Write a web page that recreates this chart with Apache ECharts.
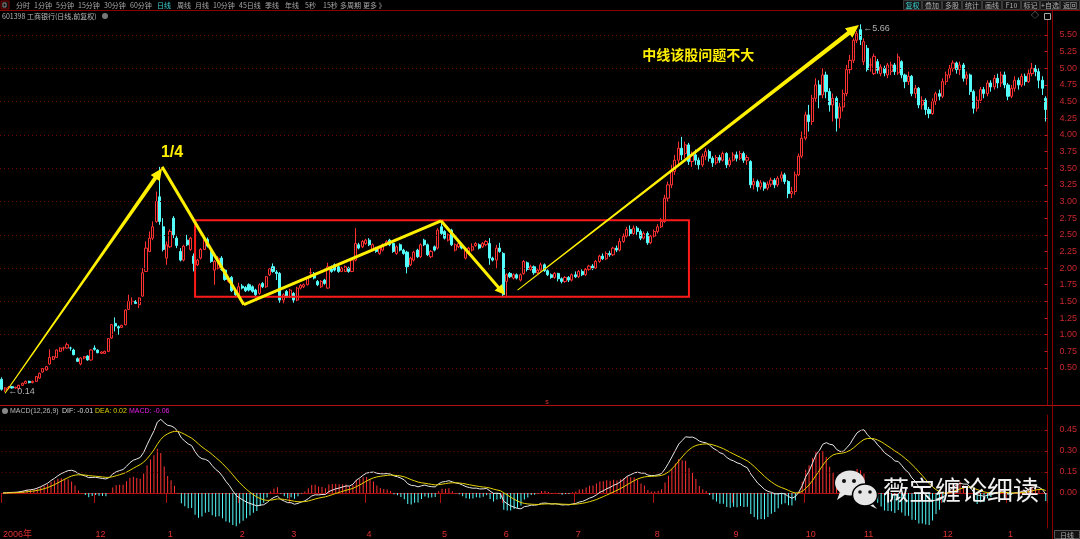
<!DOCTYPE html>
<html><head><meta charset="utf-8">
<script src="https://cdn.jsdelivr.net/npm/echarts@6/dist/echarts.min.js"></script>
<style>html,body{margin:0;padding:0;background:#000;}#c{width:1080px;height:539px;}</style>
</head><body><div id="c"></div>
<script>
// ===== DATA: daily candles [open, close, low, high] =====
const phaseRise = [
[0.33,0.18,0.16,0.36],[0.17,0.20,0.14,0.21],[0.20,0.21,0.18,0.23],[0.22,0.20,0.19,0.23],[0.20,0.21,0.19,0.22],
[0.19,0.24,0.18,0.25],[0.24,0.27,0.23,0.28],[0.27,0.30,0.26,0.31],[0.30,0.28,0.27,0.31],[0.28,0.30,0.27,0.31],
[0.30,0.37,0.29,0.38],[0.35,0.42,0.34,0.43],[0.44,0.49,0.43,0.50],[0.47,0.52,0.46,0.53],[0.56,0.66,0.55,0.78],
[0.63,0.67,0.62,0.68],[0.66,0.77,0.65,0.78],[0.75,0.80,0.74,0.81],[0.80,0.80,0.76,0.82],[0.80,0.85,0.79,0.88],
[0.80,0.80,0.76,0.82],[0.77,0.70,0.69,0.79],[0.64,0.60,0.59,0.66],[0.56,0.65,0.54,0.66],[0.65,0.67,0.63,0.68],
[0.68,0.62,0.61,0.69],[0.62,0.77,0.61,0.78],[0.80,0.78,0.76,0.84],[0.77,0.73,0.72,0.78],[0.72,0.74,0.71,0.75],
[0.72,0.75,0.71,0.76],[0.75,0.94,0.74,0.95],[0.95,1.15,0.94,1.16],[1.17,1.13,1.05,1.26],[1.12,1.10,1.00,1.14],
[1.11,1.14,1.10,1.15],[1.15,1.37,1.14,1.38],[1.38,1.50,1.37,1.60],[1.50,1.50,1.45,1.56],[1.50,1.47,1.46,1.52],
[1.45,1.55,1.40,1.56],[1.58,1.93,1.57,2.00],[1.95,2.30,1.94,2.40],[2.25,2.45,2.24,2.55],[2.45,2.62,2.42,2.70],
[2.70,3.00,2.68,3.15],[3.07,2.70,2.65,3.52],[2.62,2.28,2.25,2.75]
];
const phaseBox = [
[2.15,2.35,2.05,2.40],[2.32,2.55,2.30,2.58],[2.75,2.50,2.45,2.78],[2.45,2.34,2.30,2.50],[2.25,2.12,2.10,2.30],
[2.12,2.33,2.10,2.35],[2.42,2.35,2.33,2.50],[2.28,2.45,2.26,2.47],[2.18,2.07,1.95,2.22],[2.05,2.12,2.03,2.14],
[2.15,2.28,2.13,2.30],[2.28,2.42,2.27,2.45],[2.43,2.33,2.31,2.46],[2.25,2.10,2.08,2.27],[1.97,2.10,1.75,2.12],
[2.00,2.15,1.98,2.18],[2.15,1.98,1.96,2.18],[1.97,1.83,1.81,1.99],[1.80,1.84,1.78,1.86],[1.86,1.66,1.64,1.88],
[1.66,1.60,1.58,1.68],[1.60,1.72,1.58,1.78],[1.73,1.70,1.68,1.76],[1.71,1.66,1.64,1.73],[1.75,1.67,1.65,1.77],
[1.72,1.65,1.63,1.74],[1.67,1.60,1.58,1.69],[1.62,1.75,1.60,1.77],[1.77,1.72,1.70,1.79],[1.72,1.87,1.70,1.88],
[1.90,1.99,1.88,2.00],[2.02,1.95,1.93,2.07],[1.94,1.92,1.82,1.97],[1.92,1.52,1.48,1.94],[1.52,1.60,1.47,1.62],
[1.65,1.57,1.55,1.67],[1.57,1.67,1.55,1.69],[1.62,1.52,1.48,1.64],[1.52,1.70,1.50,1.72],[1.70,1.74,1.68,1.76],
[1.72,1.75,1.70,1.77],[1.75,1.85,1.74,1.87],[1.93,1.93,1.85,2.00],[1.92,1.85,1.83,1.94],[1.80,1.75,1.73,1.82],
[1.72,1.80,1.70,1.82],[1.82,1.77,1.75,1.84],[1.70,2.02,1.69,2.08],[2.02,1.95,1.93,2.04],[2.05,1.97,1.95,2.07],
[2.02,1.95,1.93,2.04],[1.95,2.00,1.94,2.02],[1.95,2.02,1.94,2.04],[2.00,1.95,1.93,2.02],[1.95,2.12,1.94,2.14],
[2.12,2.37,2.10,2.60],[2.35,2.30,2.28,2.38],[2.32,2.40,2.30,2.42],[2.37,2.42,2.35,2.44],[2.42,2.35,2.33,2.45],
[2.27,2.35,2.25,2.37],[2.30,2.25,2.23,2.32],[2.22,2.30,2.20,2.32],[2.27,2.35,2.25,2.37],[2.35,2.40,2.33,2.42],
[2.42,2.35,2.33,2.44],[2.37,2.25,2.23,2.40],[2.22,2.32,2.20,2.34],[2.35,2.27,2.25,2.37],[2.27,2.22,2.20,2.29],
[2.24,2.02,1.92,2.26],[2.05,2.15,2.03,2.17],[2.12,2.24,2.10,2.26],[2.27,2.17,2.15,2.29],[2.17,2.35,2.15,2.37],
[2.42,2.35,2.33,2.44],[2.35,2.20,2.18,2.37],[2.17,2.25,2.15,2.27],[2.32,2.27,2.25,2.34],[2.30,2.57,2.28,2.60],
[2.62,2.52,2.50,2.72],[2.55,2.45,2.43,2.57],[2.42,2.50,2.40,2.52],[2.57,2.35,2.33,2.59],[2.27,2.35,2.25,2.37],
[2.32,2.37,2.30,2.39],[2.35,2.30,2.28,2.37],[2.15,2.27,2.13,2.29],[2.22,2.30,2.20,2.32],[2.27,2.32,2.25,2.37],
[2.34,2.37,2.32,2.39],[2.35,2.30,2.28,2.37],[2.32,2.37,2.30,2.39],[2.35,2.40,2.33,2.42],[2.37,2.15,2.05,2.45],
[2.15,2.12,2.10,2.17],[2.12,2.30,1.99,2.35],[2.30,2.25,2.23,2.38],[2.22,1.60,1.58,2.24],[1.80,1.90,1.57,1.92],
[1.92,1.87,1.85,1.94],[1.85,1.90,1.83,1.92],[1.90,1.85,1.83,1.92],[1.82,1.90,1.80,1.92],[1.92,2.10,1.90,2.12]
];
const phaseBreakout = [
[2.08,1.98,1.95,2.10],[1.98,2.02,1.96,2.05],[2.02,1.93,1.90,2.04],[1.93,1.97,1.91,1.99],[1.97,2.05,1.95,2.08],
[2.05,1.96,1.94,2.07],[1.96,1.90,1.88,1.98],[1.90,1.86,1.84,1.92],[1.86,1.92,1.84,1.94],[1.92,1.84,1.80,1.93],
[1.84,1.80,1.77,1.86],[1.80,1.86,1.78,1.88],[1.86,1.82,1.79,1.88],[1.82,1.90,1.80,1.92],[1.90,1.87,1.85,1.95],
[1.87,1.95,1.85,1.97],[1.95,1.90,1.88,1.98],[1.90,1.98,1.88,2.00],[1.98,2.03,1.96,2.05],[2.03,2.00,1.97,2.06],
[2.00,2.10,1.99,2.12],[2.10,2.18,2.08,2.20],[2.18,2.14,2.12,2.22],[2.14,2.22,2.12,2.25],[2.22,2.20,2.17,2.26],
[2.20,2.30,2.18,2.32],[2.30,2.27,2.24,2.34],[2.27,2.40,2.25,2.45],[2.40,2.48,2.38,2.52],[2.48,2.58,2.46,2.62],
[2.58,2.52,2.48,2.64],[2.52,2.60,2.50,2.64],[2.60,2.55,2.50,2.63],[2.55,2.45,2.42,2.58],[2.45,2.52,2.43,2.55],
[2.52,2.38,2.35,2.55],[2.38,2.48,2.36,2.50],[2.48,2.55,2.46,2.58],[2.55,2.62,2.52,2.66],[2.62,2.70,2.60,2.75],
[2.70,3.05,2.68,3.10],[3.05,3.25,3.00,3.30],
[3.25,3.45,3.20,3.55],[3.45,3.62,3.40,3.70],[3.62,3.80,3.55,3.90],[3.80,3.70,3.62,3.97],[3.72,3.85,3.65,3.90],
[3.85,3.60,3.55,3.88],[3.60,3.70,3.52,3.75],[3.70,3.62,3.55,3.78],[3.62,3.55,3.48,3.66],[3.55,3.68,3.52,3.72],
[3.68,3.75,3.62,3.80],[3.75,3.65,3.60,3.78],[3.65,3.58,3.52,3.68],[3.58,3.66,3.55,3.70],[3.66,3.62,3.58,3.70],
[3.62,3.72,3.60,3.75],[3.72,3.55,3.50,3.74],[3.55,3.62,3.52,3.66],[3.62,3.70,3.60,3.74],[3.70,3.65,3.60,3.75],
[3.65,3.72,3.62,3.76],[3.72,3.62,3.58,3.75],[3.62,3.66,3.55,3.70],[3.60,3.25,3.20,3.62],[3.25,3.30,3.18,3.35],
[3.30,3.22,3.15,3.33],[3.22,3.28,3.18,3.32],[3.28,3.20,3.16,3.30],[3.20,3.26,3.17,3.30],[3.26,3.32,3.22,3.36],
[3.32,3.25,3.20,3.35],[3.25,3.35,3.22,3.38],[3.35,3.40,3.30,3.45],[3.40,3.30,3.26,3.43],[3.30,3.12,3.05,3.32],
[3.12,3.15,3.05,3.22],[3.15,3.40,3.10,3.45],[3.40,3.68,3.38,3.72],[3.68,3.95,3.65,4.05],[3.95,4.30,3.92,4.35]
];
const phaseTop = [
[4.30,4.20,4.05,4.45],[4.20,4.55,4.15,4.60],[4.55,4.75,4.50,4.85],[4.75,4.60,4.40,4.82],[4.60,4.90,4.55,5.00],
[4.90,4.65,4.55,4.95],[4.65,4.45,4.35,4.70],[4.45,4.55,4.20,4.62],[4.55,4.25,4.05,4.58],[4.25,4.42,4.10,4.48],
[4.42,4.62,4.35,4.68],[4.62,4.98,4.58,5.05],[4.98,5.12,4.92,5.20],[5.12,5.42,5.08,5.45],[5.42,5.52,5.38,5.56],
[5.58,5.43,5.35,5.66],[5.10,5.40,5.05,5.45],[5.30,4.98,4.95,5.35],[5.05,5.05,4.95,5.15],[4.92,5.18,4.90,5.22],
[5.10,4.97,4.92,5.14],[4.92,5.02,4.88,5.06],[5.00,4.93,4.88,5.04],[4.90,5.05,4.85,5.08],[4.95,5.05,4.90,5.10],
[5.05,4.95,4.90,5.08],[4.93,5.17,4.90,5.22],[5.10,4.90,4.85,5.12],[4.90,4.80,4.70,4.92],[4.80,4.88,4.75,4.95],
[4.88,4.62,4.58,4.90],[4.62,4.70,4.55,4.75],[4.70,4.45,4.40,4.72],[4.45,4.52,4.38,4.58],[4.52,4.38,4.30,4.55],
[4.38,4.32,4.25,4.42],[4.32,4.50,4.30,4.55],[4.50,4.62,4.45,4.65],[4.62,4.58,4.52,4.68],[4.58,4.80,4.55,4.85],
[4.80,4.90,4.75,4.95],[4.90,5.00,4.85,5.05],[5.00,5.08,4.95,5.12],[5.08,4.98,4.92,5.10],[4.98,5.05,4.90,5.10],
[5.05,4.85,4.80,5.08],[4.85,4.90,4.75,4.95],[4.90,4.65,4.60,4.92],[4.65,4.40,4.32,4.68],[4.40,4.52,4.35,4.58],
[4.52,4.68,4.48,4.72],[4.68,4.62,4.55,4.72],[4.62,4.78,4.58,4.82],[4.78,4.72,4.65,4.82],[4.72,4.85,4.68,4.90],
[4.85,4.78,4.70,4.92],[4.78,4.90,4.72,4.95],[4.90,4.75,4.70,4.95],[4.75,4.58,4.52,4.78],[4.58,4.70,4.55,4.75],
[4.70,4.82,4.65,4.88],[4.82,4.75,4.68,4.86],[4.75,4.88,4.72,4.92],[4.88,4.80,4.74,4.92],[4.80,4.92,4.78,4.98],
[4.92,5.00,4.88,5.08],[5.00,4.95,4.88,5.05],[4.95,4.82,4.70,5.00],[4.82,4.70,4.60,4.88],[4.55,4.38,4.20,4.58]
];
// x-axis month labels and the candle index where each month starts
const monthLabels = ['2006年','12','1','2','3','4','5','6','7','8','9','10','11','12','1'];
const monthStartIdx = [0,27,48,69,84,106,128,146,167,190,213,234,251,274,293];
// y tick labels
const priceTicks = [0.5,0.75,1,1.25,1.5,1.75,2,2.25,2.5,2.75,3,3.25,3.5,3.75,4,4.25,4.5,4.75,5,5.25,5.5];
const priceGridLines = [0.5,1,1.5,2,2.5,3,3.5,4,4.5,5,5.5];
const macdTicks = [0,0.15,0.30,0.45];
// annotations in data coordinates [candle index, price]
const rallyArrow = [[0.95,0.12],[46.7,3.50]];
const topDrop = [[46.7,3.52],[70.5,1.45]];
const boxRise = [[70.5,1.45],[127.9,2.71]];
const boxDrop = [[127.9,2.71],[146.5,1.60]];
const trendArrow = [[150.2,1.67],[249.6,5.65]];
const boxRect = [[56.3,2.72],[200.1,1.57]];
const noteQuarter = {pos:[49.6,3.74], text:'1/4'};
const noteMid = {pos:[186.5,5.21], text:'中线该股问题不大'};

// ===== BUILD =====
const bars = [].concat(phaseRise, phaseBox, phaseBreakout, phaseTop);
const categories = bars.map((_, i) => String(i));
const closes = bars.map(b => b[1]);
function ema(arr, n){ const k = 2/(n+1); const out=[]; let prev = arr[0]; arr.forEach((v,i)=>{ prev = i===0 ? v : prev + k*(v-prev); out.push(prev); }); return out; }
const e12 = ema(closes,12), e26 = ema(closes,26);
const dif = e12.map((v,i)=>v - e26[i]);
const dea = ema(dif,9);
const macd = dif.map((v,i)=>2*(v-dea[i]));
const monthMap = {}; monthStartIdx.forEach((ix,k)=>monthMap[ix]=monthLabels[k]);

const RED = '#ff3232', CYAN = '#54fcfc', AXRED = '#c8282c', DOTRED = '#6e0000';
const chart = echarts.init(document.getElementById('c'));
const FONT = '"Liberation Sans","Noto Sans CJK SC",sans-serif';
const CJK = '"Noto Sans CJK SC",sans-serif';

chart.setOption({
  backgroundColor:'#000',
  animation:false,
  grid:[
    {left:0, right:28, top:20, height:385},
    {left:0, right:28, top:415, height:113}
  ],
  xAxis:[
    {type:'category', gridIndex:0, data:categories, show:false, boundaryGap:true},
    {type:'category', gridIndex:1, data:categories, boundaryGap:true,
      axisLine:{show:true, lineStyle:{color:'#b01010', width:1}},
      axisTick:{show:true, length:10, interval:(i)=>monthMap[i]!==undefined, lineStyle:{color:'#b01010'}},
      axisLabel:{interval:(i)=>monthMap[i]!==undefined, formatter:(v,i)=>monthMap[i]||'', align:'left', color:'#e03030', fontSize:9, margin:2, fontFamily:FONT},
      splitLine:{show:false}}
  ],
  yAxis:[
    {type:'value', gridIndex:0, position:'right', min:-0.0556, max:5.7252,
      axisLine:{show:true, lineStyle:{color:'#8b0000'}},
      axisTick:{show:true, inside:true, length:3, customValues:priceTicks, lineStyle:{color:'#c02020'}},
      axisLabel:{customValues:priceTicks, formatter:v=>v.toFixed(2), color:AXRED, fontSize:9, margin:12, fontFamily:FONT},
      splitLine:{show:false}},
    {type:'value', gridIndex:1, position:'right', min:-0.25, max:0.5571,
      axisLine:{show:true, lineStyle:{color:'#8b0000'}},
      axisTick:{show:true, inside:true, length:3, customValues:macdTicks, lineStyle:{color:'#c02020'}},
      axisLabel:{customValues:macdTicks, formatter:v=>v.toFixed(2), color:AXRED, fontSize:9, margin:12, fontFamily:FONT},
      splitLine:{show:false}}
  ],
  series:[
    {type:'candlestick', xAxisIndex:0, yAxisIndex:0, data:bars, barWidth:2.6,
      itemStyle:{color:'#000', color0:CYAN, borderColor:RED, borderColor0:CYAN, borderWidth:1},
      markLine:{silent:true, symbol:'none', label:{show:false},
        lineStyle:{color:DOTRED, type:[1,3], width:1},
        data:priceGridLines.map(v=>({yAxis:v}))}},
    {type:'bar', xAxisIndex:1, yAxisIndex:1, data:macd, barWidth:1,
      itemStyle:{color:(p)=>p.value>=0?RED:CYAN}},
    {type:'line', xAxisIndex:1, yAxisIndex:1, data:dif, symbol:'none', lineStyle:{color:'#e8e8e8', width:1},
      markLine:{silent:true, symbol:'none', label:{show:false},
        lineStyle:{color:DOTRED, type:[1,3], width:1},
        data:macdTicks.slice(1).map(v=>({yAxis:v}))}},
    {type:'line', xAxisIndex:1, yAxisIndex:1, data:dea, symbol:'none', lineStyle:{color:'#e6d200', width:1}}
  ]
});

// ===== ANNOTATIONS & CHROME =====
function px(i, p){
  const i0 = Math.floor(i), f = i - i0;
  const a = chart.convertToPixel({xAxisIndex:0, yAxisIndex:0}, [i0, p]);
  const b = chart.convertToPixel({xAxisIndex:0, yAxisIndex:0}, [i0+1, p]);
  return [a[0] + f*(b[0]-a[0]), a[1]];
}
function arrowPoly(seg, w0, w1, headLen, headW){
  const P0 = px(seg[0][0], seg[0][1]), P1 = px(seg[1][0], seg[1][1]);
  const dx = P1[0]-P0[0], dy = P1[1]-P0[1], L = Math.hypot(dx,dy);
  const ux = dx/L, uy = dy/L, nx = -uy, ny = ux;
  const E = [P1[0]-ux*headLen, P1[1]-uy*headLen];
  const pts = [
    [P0[0]+nx*w0/2, P0[1]+ny*w0/2],
    [E[0]+nx*w1/2, E[1]+ny*w1/2],
    [E[0]+nx*headW/2, E[1]+ny*headW/2],
    P1,
    [E[0]-nx*headW/2, E[1]-ny*headW/2],
    [E[0]-nx*w1/2, E[1]-ny*w1/2],
    [P0[0]-nx*w0/2, P0[1]-ny*w0/2]
  ];
  if(!headLen){ pts.splice(1,5,[P1[0]+nx*w1/2,P1[1]+ny*w1/2],[P1[0]-nx*w1/2,P1[1]-ny*w1/2]); }
  return {type:'polygon', z:100, shape:{points:pts}, style:{fill:'#fff000'}};
}
const YEL = '#fff000';
const g = [];
const r0 = px(boxRect[0][0], boxRect[0][1]), r1 = px(boxRect[1][0], boxRect[1][1]);
g.push({type:'rect', z:99, shape:{x:r0[0], y:r0[1], width:r1[0]-r0[0], height:r1[1]-r0[1]}, style:{fill:null, stroke:'#ff1a1a', lineWidth:2}});
g.push(arrowPoly(rallyArrow, 1, 4, 12, 11));
g.push(arrowPoly(topDrop, 3, 3, 0, 0));
g.push(arrowPoly(boxRise, 3, 3, 0, 0));
g.push(arrowPoly(boxDrop, 3, 3, 10, 10));
g.push(arrowPoly(trendArrow, 1, 4.5, 13, 12));
const q = px(noteQuarter.pos[0], noteQuarter.pos[1]);
g.push({type:'text', z:101, x:q[0], y:q[1], style:{text:noteQuarter.text, fill:YEL, font:'bold 16px '+FONT, align:'center', verticalAlign:'middle'}});
const m = px(noteMid.pos[0], noteMid.pos[1]);
g.push({type:'text', z:101, x:m[0], y:m[1], style:{text:noteMid.text, fill:YEL, font:'bold 14px '+CJK, align:'left', verticalAlign:'middle'}});
let minI=0, maxI=0; bars.forEach((b,i)=>{ if(b[2]<bars[minI][2]) minI=i; if(b[3]>bars[maxI][3]) maxI=i; });
const pMin = px(minI, bars[minI][2]), pMax = px(maxI, bars[maxI][3]);
g.push({type:'text', z:101, x:pMin[0]+3, y:pMin[1], style:{text:'←'+bars[minI][2].toFixed(2), fill:'#b0b0b0', font:'9px '+FONT, verticalAlign:'middle'}});
g.push({type:'text', z:101, x:pMax[0]+3, y:pMax[1]+4, style:{text:'←'+bars[maxI][3].toFixed(2), fill:'#b0b0b0', font:'9px '+FONT, verticalAlign:'middle'}});

g.push({type:'line', z:50, shape:{x1:0,y1:10.5,x2:1080,y2:10.5}, style:{stroke:'#8b0000', lineWidth:1}});
g.push({type:'line', z:50, shape:{x1:0,y1:405.5,x2:1080,y2:405.5}, style:{stroke:'#b01010', lineWidth:1}});
g.push({type:'line', z:50, shape:{x1:1052.5,y1:10,x2:1052.5,y2:539}, style:{stroke:'#8b0000', lineWidth:1}});
const tbItems = ['分时','1分钟','5分钟','15分钟','30分钟','60分钟','日线','周线','月线','10分钟','45日线','季线','年线','5秒','15秒','多周期','更多 》'];
const tbX = [16,34,56,78,104,130,157,177,195,213,239,265,285,305,323,340,363];
g.push({type:'rect', z:50, shape:{x:1,y:1,width:8,height:8}, style:{fill:'#111', stroke:'#8b0000', lineWidth:1}});
g.push({type:'rect', z:51, shape:{x:3,y:3,width:3,height:4}, style:{fill:null, stroke:'#888', lineWidth:1}});
tbItems.forEach((t,k)=>g.push({type:'text', z:50, x:tbX[k], y:5.5, style:{text:t, fill: t==='日线'?'#3cd0d0':'#a8a8a8', font:'7px '+CJK, verticalAlign:'middle'}}));
const btn = ['复权','叠加','多股','统计','画线','F10','标记','+自选','返回'];
const btnX = [903,922,942,962,982,1002,1021,1040,1060,1080];
btn.forEach((t,k)=>{
  g.push({type:'rect', z:50, shape:{x:btnX[k]+0.5,y:0.5,width:btnX[k+1]-btnX[k]-1,height:9}, style:{fill:'#161616', stroke:'#3a3a3a', lineWidth:1}});
  g.push({type:'text', z:51, x:(btnX[k]+btnX[k+1])/2, y:5.5, style:{text:t, fill:k===0?'#3cd0d0':'#b0b0b0', font:'7px '+CJK, align:'center', verticalAlign:'middle'}});
});
g.push({type:'text', z:50, x:2, y:16, style:{text:'601398 工商银行(日线,前复权)', fill:'#b8b8b8', font:'7px '+CJK, verticalAlign:'middle'}});
g.push({type:'circle', z:50, shape:{cx:105, cy:16, r:3}, style:{fill:'#777'}});
g.push({type:'text', z:50, x:1031, y:16, style:{text:'◇', fill:'#aaa', font:'8px '+FONT, verticalAlign:'middle'}});
g.push({type:'rect', z:50, shape:{x:1044.5,y:13.5,width:6,height:6}, style:{fill:null, stroke:'#aaa', lineWidth:1}});
g.push({type:'circle', z:50, shape:{cx:5, cy:411, r:3}, style:{fill:'#888'}});
g.push({type:'text', z:50, x:10, y:411, style:{text:'MACD(12,26,9)', fill:'#b8b8b8', font:'7px '+FONT, verticalAlign:'middle'}});
g.push({type:'text', z:50, x:62, y:411, style:{text:'DIF: -0.01', fill:'#d8d8d8', font:'7px '+FONT, verticalAlign:'middle'}});
g.push({type:'text', z:50, x:95, y:411, style:{text:'DEA: 0.02', fill:'#e0d000', font:'7px '+FONT, verticalAlign:'middle'}});
g.push({type:'text', z:50, x:129, y:411, style:{text:'MACD: -0.06', fill:'#e020e0', font:'7px '+FONT, verticalAlign:'middle'}});
g.push({type:'text', z:50, x:547, y:402, style:{text:'s', fill:'#e03030', font:'7px '+FONT, align:'center', verticalAlign:'middle'}});
g.push({type:'rect', z:50, shape:{x:1054.5,y:530.5,width:25,height:8}, style:{fill:'#111', stroke:'#555', lineWidth:1}});
g.push({type:'text', z:51, x:1067, y:535, style:{text:'日线', fill:'#aaa', font:'7px '+CJK, align:'center', verticalAlign:'middle'}});
g.push({type:'polygon', z:120, shape:{points:[[840,492],[837,500],[846,494]]}, style:{fill:'#e6e6e6'}});
g.push({type:'ellipse', z:120, shape:{cx:850, cy:483, rx:15, ry:12.5}, style:{fill:'#e6e6e6'}});
g.push({type:'circle', z:121, shape:{cx:844, cy:481, r:2}, style:{fill:'#111'}});
g.push({type:'circle', z:121, shape:{cx:854, cy:481, r:2}, style:{fill:'#111'}});
g.push({type:'polygon', z:122, shape:{points:[[872,503],[877,509],[869,505]]}, style:{fill:'#e6e6e6'}});
g.push({type:'ellipse', z:122, shape:{cx:865, cy:495, rx:12.5, ry:11}, style:{fill:'#e6e6e6', stroke:'#000', lineWidth:1.5}});
g.push({type:'circle', z:123, shape:{cx:860, cy:492, r:1.8}, style:{fill:'#111'}});
g.push({type:'circle', z:123, shape:{cx:870, cy:492, r:1.8}, style:{fill:'#111'}});
g.push({type:'text', z:120, x:883, y:490, style:{text:'薇宝缠论细读', fill:'#f2f2f2', font:'26px '+CJK, verticalAlign:'middle'}});

chart.setOption({graphic:g});
</script>
</body></html>
